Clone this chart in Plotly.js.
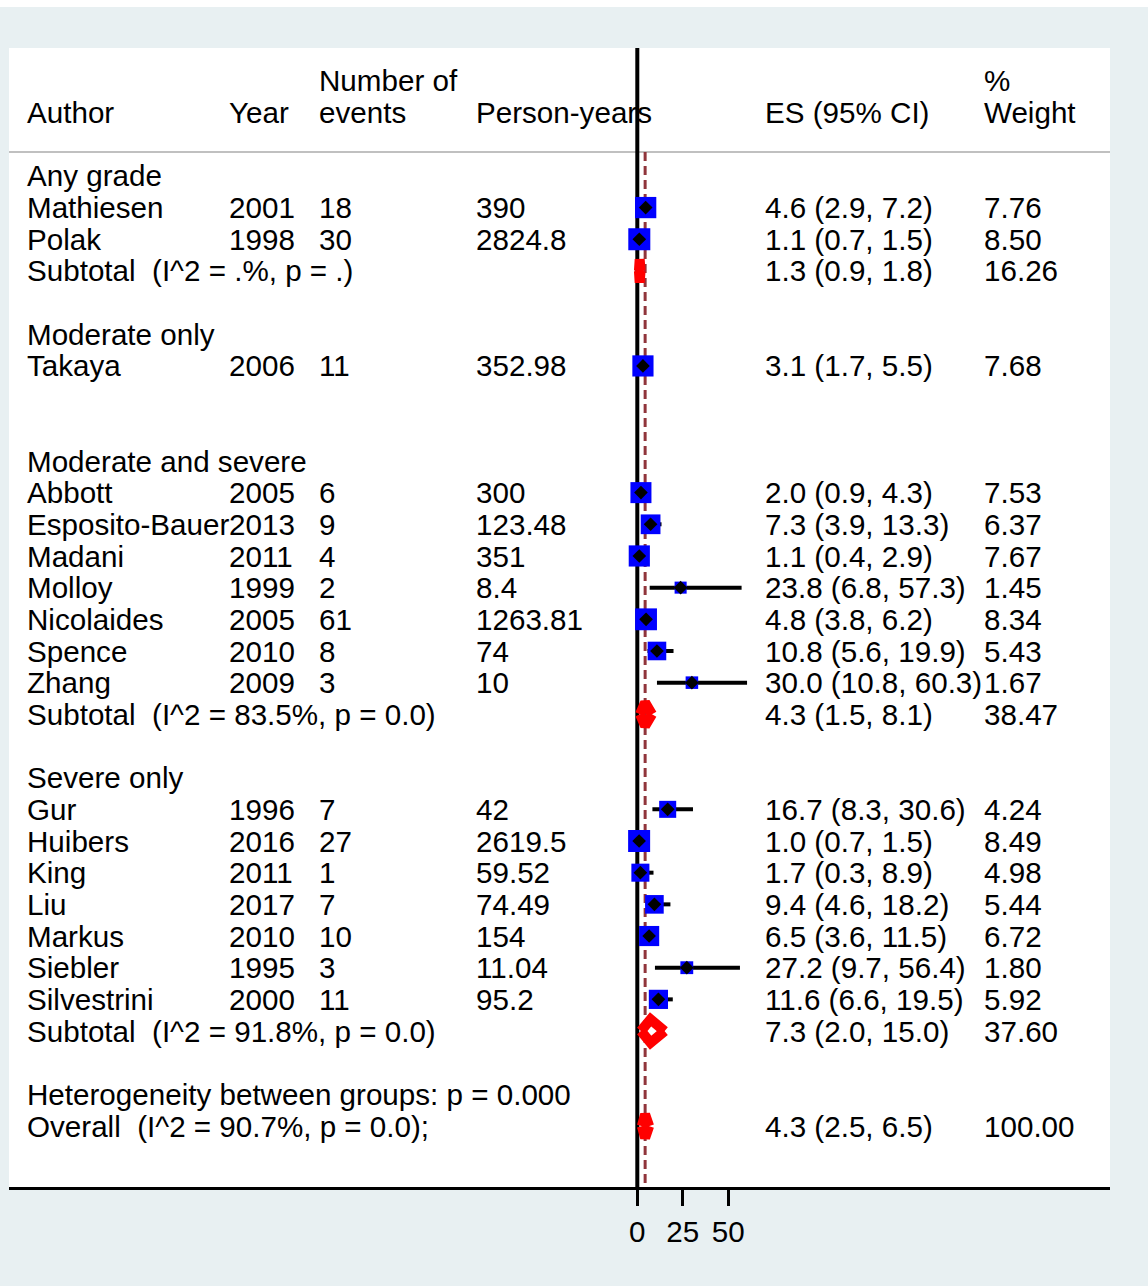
<!DOCTYPE html>
<html>
<head>
<meta charset="utf-8">
<script src="https://cdn.plot.ly/plotly-3.0.1.min.js"></script>
<style>
  html, body { margin: 0; padding: 0; background: #ffffff; }
  #chart { position: absolute; left: 0; top: 7px; width: 1148px; height: 1279px; }
</style>
</head>
<body>
<div id="chart"></div>
<script>
// ---- Study data -------------------------------------------------------
const groupNames = ["Any grade", "Moderate only", "Moderate and severe", "Severe only"];

const authors = ["Mathiesen", "Polak", "Takaya", "Abbott", "Esposito-Bauer", "Madani", "Molloy",
  "Nicolaides", "Spence", "Zhang", "Gur", "Huibers", "King", "Liu", "Markus", "Siebler", "Silvestrini"];
const years = [2001, 1998, 2006, 2005, 2013, 2011, 1999, 2005, 2010, 2009, 1996, 2016, 2011, 2017, 2010, 1995, 2000];
const events = [18, 30, 11, 6, 9, 4, 2, 61, 8, 3, 7, 27, 1, 7, 10, 3, 11];
const personYears = ["390", "2824.8", "352.98", "300", "123.48", "351", "8.4", "1263.81", "74", "10",
  "42", "2619.5", "59.52", "74.49", "154", "11.04", "95.2"];
const effect = [4.6, 1.1, 3.1, 2.0, 7.3, 1.1, 23.8, 4.8, 10.8, 30.0, 16.7, 1.0, 1.7, 9.4, 6.5, 27.2, 11.6];
const ciLow = [2.9, 0.7, 1.7, 0.9, 3.9, 0.4, 6.8, 3.8, 5.6, 10.8, 8.3, 0.7, 0.3, 4.6, 3.6, 9.7, 6.6];
const ciHigh = [7.2, 1.5, 5.5, 4.3, 13.3, 2.9, 57.3, 6.2, 19.9, 60.3, 30.6, 1.5, 8.9, 18.2, 11.5, 56.4, 19.5];
const weights = [7.76, 8.50, 7.68, 7.53, 6.37, 7.67, 1.45, 8.34, 5.43, 1.67, 4.24, 8.49, 4.98, 5.44, 6.72, 1.80, 5.92];
const studyGroup = [0, 0, 1, 2, 2, 2, 2, 2, 2, 2, 3, 3, 3, 3, 3, 3, 3];

// Pooled estimates per group (null where the group has a single study)
const subtotalLabels = ["Subtotal\u00a0 (I^2 = .%, p = .)", null,
  "Subtotal\u00a0 (I^2 = 83.5%, p = 0.0)", "Subtotal\u00a0 (I^2 = 91.8%, p = 0.0)"];
const subtotalEffect = [1.3, null, 4.3, 7.3];
const subtotalLow = [0.9, null, 1.5, 2.0];
const subtotalHigh = [1.8, null, 8.1, 15.0];
const subtotalWeight = [16.26, null, 38.47, 37.60];

const heterogeneityLabel = "Heterogeneity between groups: p = 0.000";
const overallLabel = "Overall\u00a0 (I^2 = 90.7%, p = 0.0);";
const overallEffect = 4.3;
const overallLow = 2.5;
const overallHigh = 6.5;
const overallWeight = 100.00;

const xTicks = [0, 25, 50];
const xTickLabels = ["0", "25", "50"];

// ---- Layout geometry ----------------------------------------------------
const PX_PER_UNIT = 1.82;      // horizontal scale of the effect axis
const ZERO_PX = 637.3;         // page x of ES = 0
const X_RANGE = [(9 - ZERO_PX) / PX_PER_UNIT, (1110 - ZERO_PX) / PX_PER_UNIT];
const Y_RANGE = [31.924, -4.038]; // rows, top to bottom
const colX = px => (px - ZERO_PX) / PX_PER_UNIT;
const COL = { author: colX(27), year: colX(229), events: colX(319), py: colX(476), es: colX(765), wt: colX(984) };
const TEXT_DY = 0.1;
const SEPARATOR_ROW = -0.757;
const DIAMOND_HALF = 0.37;

const FONT = "Liberation Sans, Arial, Helvetica, sans-serif";
const FONT_SIZE = 29.6;

const fmt1 = v => v.toFixed(1);
const esText = (e, l, h) => `${fmt1(e)} (${fmt1(l)}, ${fmt1(h)})`;

// ---- Row assignment ---------------------------------------------------
const cols = {};
Object.keys(COL).forEach(k => cols[k] = { y: [], text: [] });
function put(col, row, text) { cols[col].y.push(row + TEXT_DY); cols[col].text.push(text); }

// Header
put("events", -3, "Number of");
put("wt", -3, "%");
put("author", -2, "Author");
put("year", -2, "Year");
put("events", -2, "events");
put("py", -2, "Person-years");
put("es", -2, "ES (95% CI)");
put("wt", -2, "Weight");

const studyRow = [];
const poolRows = [], poolEffect = [], poolLow = [], poolHigh = [];
let row = 0;
groupNames.forEach((name, g) => {
  put("author", row, name);
  row++;
  authors.forEach((a, i) => {
    if (studyGroup[i] !== g) return;
    studyRow[i] = row;
    put("author", row, a);
    put("year", row, String(years[i]));
    put("events", row, String(events[i]));
    put("py", row, personYears[i]);
    put("es", row, esText(effect[i], ciLow[i], ciHigh[i]));
    put("wt", row, weights[i].toFixed(2));
    row++;
  });
  if (subtotalEffect[g] !== null) {
    put("author", row, subtotalLabels[g]);
    put("es", row, esText(subtotalEffect[g], subtotalLow[g], subtotalHigh[g]));
    put("wt", row, subtotalWeight[g].toFixed(2));
    poolRows.push(row); poolEffect.push(subtotalEffect[g]);
    poolLow.push(subtotalLow[g]); poolHigh.push(subtotalHigh[g]);
  }
  row += 2;
});
put("author", row, heterogeneityLabel);
row++;
put("author", row, overallLabel);
put("es", row, esText(overallEffect, overallLow, overallHigh));
put("wt", row, overallWeight.toFixed(2));
poolRows.push(row); poolEffect.push(overallEffect);
poolLow.push(overallLow); poolHigh.push(overallHigh);

// ---- Traces -----------------------------------------------------------
const traces = [];

// Table text columns
Object.keys(COL).forEach(k => {
  traces.push({
    type: "scatter", mode: "text",
    x: cols[k].y.map(() => COL[k]), y: cols[k].y, text: cols[k].text,
    textposition: "middle right",
    textfont: { family: FONT, size: FONT_SIZE, color: "#000000" },
    hoverinfo: "skip"
  });
});

// Header separator
traces.push({
  type: "scatter", mode: "lines", x: X_RANGE, y: [SEPARATOR_ROW, SEPARATOR_ROW],
  line: { color: "#c0c0c0", width: 2 }, hoverinfo: "skip"
});

// Line of no effect
traces.push({
  type: "scatter", mode: "lines", x: [0, 0], y: Y_RANGE,
  line: { color: "#000000", width: 4 }, hoverinfo: "skip"
});

// Overall effect reference line
traces.push({
  type: "scatter", mode: "lines", x: [overallEffect, overallEffect], y: [SEPARATOR_ROW, Y_RANGE[0]],
  line: { color: "#90353b", width: 3, dash: "9px,5px" }, hoverinfo: "skip"
});

// Confidence intervals
const ciX = [], ciY = [];
authors.forEach((a, i) => { ciX.push(ciLow[i], ciHigh[i], null); ciY.push(studyRow[i], studyRow[i], null); });
traces.push({
  type: "scatter", mode: "lines", x: ciX, y: ciY,
  line: { color: "#000000", width: 4 }, hoverinfo: "skip"
});

// Weight boxes
traces.push({
  type: "scatter", mode: "markers", x: effect, y: studyRow,
  marker: { symbol: "square", color: "#0000ff", opacity: 1,
            size: weights.map(w => 5 + 5.84 * Math.sqrt(w)), line: { width: 0 } },
  hoverinfo: "skip"
});

// Point estimates
traces.push({
  type: "scatter", mode: "markers", x: effect, y: studyRow,
  marker: { symbol: "diamond", color: "#000000", opacity: 1, size: 10.5, line: { width: 0 } },
  hoverinfo: "skip"
});

// Pooled diamonds
const dX = [], dY = [];
poolRows.forEach((r, k) => {
  dX.push(poolLow[k], poolEffect[k], poolHigh[k], null, poolLow[k], poolEffect[k], poolHigh[k], null);
  dY.push(r, r - DIAMOND_HALF, r, null, r, r + DIAMOND_HALF, r, null);
});
traces.push({
  type: "scatter", mode: "lines", x: dX, y: dY,
  line: { color: "#ff0000", width: 10 }, hoverinfo: "skip"
});

const layout = {
  width: 1148, height: 1279,
  paper_bgcolor: "#e8f0f2", plot_bgcolor: "#ffffff",
  margin: { l: 9, r: 38, t: 41, b: 99, pad: 0 },
  showlegend: false, hovermode: false,
  font: { family: FONT, size: FONT_SIZE, color: "#000000" },
  xaxis: {
    range: X_RANGE, tickvals: xTicks, ticktext: xTickLabels,
    ticks: "outside", ticklen: 16, tickwidth: 3, tickcolor: "#000000",
    showline: true, linecolor: "#000000", linewidth: 3,
    showgrid: false, zeroline: false, fixedrange: true,
    tickfont: { family: FONT, size: FONT_SIZE, color: "#000000" }
  },
  yaxis: { range: Y_RANGE, visible: false, showgrid: false, zeroline: false, fixedrange: true }
};

Plotly.newPlot("chart", traces, layout, { displayModeBar: false, staticPlot: true });
</script>
</body>
</html>
